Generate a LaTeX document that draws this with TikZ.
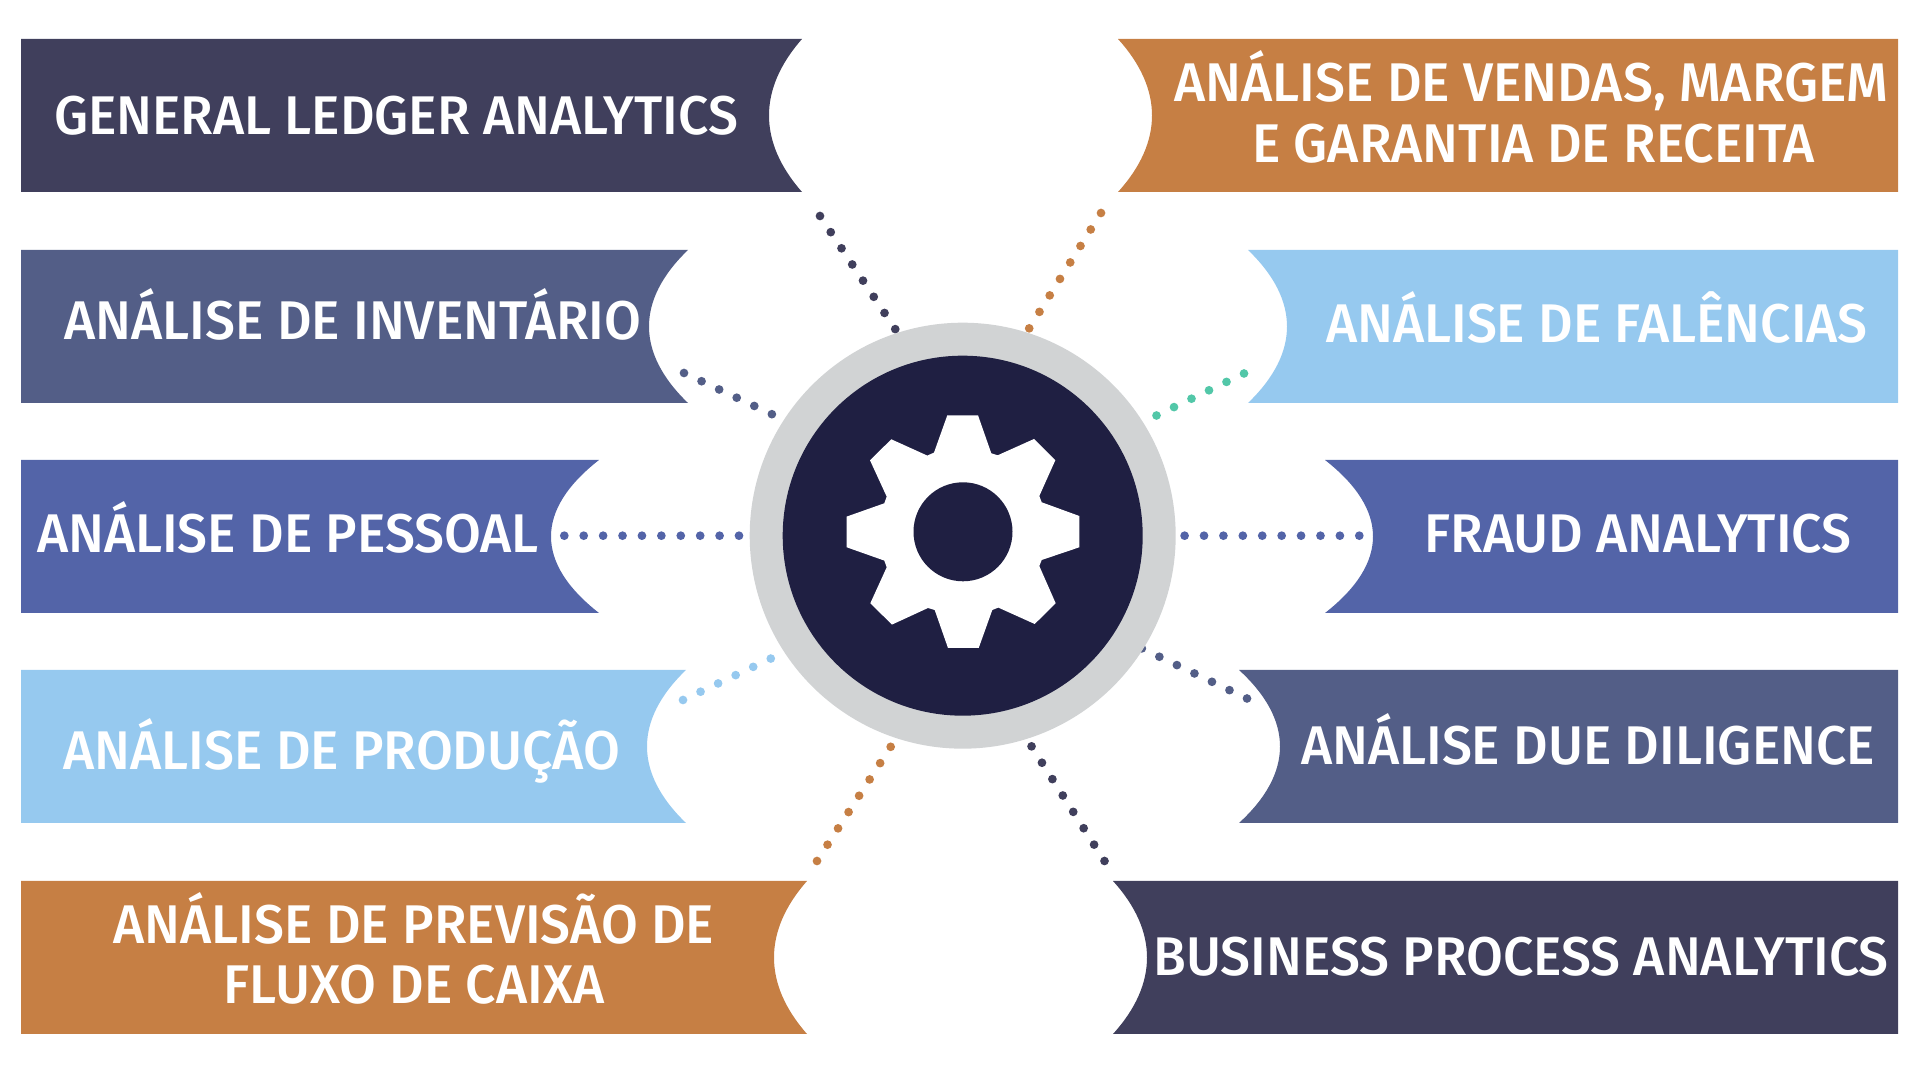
\documentclass[tikz,border=0pt]{standalone}
\usepackage{fontspec}
\newfontfamily\bannerfont[FakeStretch=0.98]{Fira Sans Medium}
\definecolor{darkslate}{HTML}{403F5C}
\definecolor{midslate}{HTML}{535E87}
\definecolor{royal}{HTML}{5364A8}
\definecolor{skyblue}{HTML}{96C9EF}
\definecolor{copper}{HTML}{C67F44}
\definecolor{teal}{HTML}{52C7A8}
\definecolor{navy}{HTML}{1F1F42}
\definecolor{ringgrey}{HTML}{D1D3D4}
\tikzset{
    bannertext/.style={font=\bannerfont\fontsize{15.5}{17.4}\selectfont, text=white, inner sep=0pt, anchor=base, align=center},
    dotline/.style={line width=0.087cm, line cap=round, dash pattern=on 0pt off 0.194cm},
}
% colour, top edge, outer edge, tip of the notch, deepest point of the notch
\newcommand{\banner}[5]{
    \pgfmathsetmacro{\ctrlx}{#4+(#5-#4)*4/3}
    \fill[#1] (#3,#2) -- (#4,#2) .. controls (\ctrlx,#2+50) and (\ctrlx,#2+103) .. (#4,#2+153) -- (#3,#2+153) -- cycle;
}
\begin{document}
\begin{tikzpicture}[x=0.01cm, y=-0.01cm]
    \useasboundingbox (0,0) rectangle (1920,1080);

    % left column
    \banner{darkslate}{39}{21}{802}{769}
    \banner{midslate}{250}{21}{688}{649}
    \banner{royal}{460}{21}{599}{551}
    \banner{skyblue}{670}{21}{686}{647}
    \banner{copper}{881}{21}{807}{774}
    % right column
    \banner{copper}{39}{1898}{1118}{1152}
    \banner{skyblue}{250}{1898}{1248}{1287}
    \banner{royal}{460}{1898}{1325}{1373}
    \banner{midslate}{670}{1898}{1239}{1280}
    \banner{darkslate}{881}{1898}{1113}{1147}

    \node[bannertext] (ledger) at (396,134.5) {GENERAL LEDGER ANALYTICS};
    \node[bannertext] (inventario) at (353,340) {ANÁLISE DE INVENTÁRIO};
    \node[bannertext] (pessoal) at (288,552.5) {ANÁLISE DE PESSOAL};
    \node[bannertext] (producao) at (342,770) {ANÁLISE DE PRODUÇÃO};
    \node[bannertext] (previsao) at (414,944) {ANÁLISE DE PREVISÃO DE};
    \node[bannertext] (fluxo) at (414,1004) {FLUXO DE CAIXA};
    \node[bannertext] (vendas) at (1531.5,101.5) {ANÁLISE DE VENDAS, MARGEM};
    \node[bannertext] (garantia) at (1533.5,162.7) {E GARANTIA DE RECEITA};
    \node[bannertext] (falencias) at (1597,343) {ANÁLISE DE FALÊNCIAS};
    \node[bannertext] (fraud) at (1638,552.5) {FRAUD ANALYTICS};
    \node[bannertext] (diligence) at (1588,765) {ANÁLISE DUE DILIGENCE};
    \node[bannertext] (process) at (1521,976) {BUSINESS PROCESS ANALYTICS};

    % free ends of the dotted lines
    \coordinate (a1) at (820,216);   \coordinate (a2) at (895.5,329.5);
    \coordinate (b1) at (684,373);   \coordinate (b2) at (772.5,414.5);
    \coordinate (c1) at (564.3,535.7); \coordinate (c2) at (740,535.7);
    \coordinate (d1) at (683,700);   \coordinate (d2) at (772,658);
    \coordinate (e1) at (817,861);   \coordinate (e2) at (892.5,744);
    \coordinate (f1) at (1101,213);  \coordinate (f2) at (1028.5,329.5);
    \coordinate (g1) at (1244,373.5);\coordinate (g2) at (1155.5,416);
    \coordinate (h1) at (1359.3,535.7);\coordinate (h2) at (1183.5,535.7);
    \coordinate (i1) at (1247,698.5);\coordinate (i2) at (1141,648);
    \coordinate (j1) at (1104.5,861);\coordinate (j2) at (1031,745.5);

    \draw[dotline, darkslate] (a1) -- (a2);
    \draw[dotline, midslate] (b1) -- (b2);
    \draw[dotline, royal] (c1) -- (c2);
    \draw[dotline, skyblue] (d1) -- (d2);
    \draw[dotline, copper] (e1) -- (e2);
    \draw[dotline, copper] (f1) -- (f2);
    \draw[dotline, teal] (g1) -- (g2);
    \draw[dotline, royal] (h1) -- (h2);
    \draw[dotline, midslate] (i1) -- (i2);
    \draw[dotline, darkslate] (j1) -- (j2);

    % the gear
    \fill[ringgrey] (962.7,535.7) circle (213);
    \fill[navy] (962.7,535.7) circle (180);
    \begin{scope}[shift={(963,531.8)}]
        \fill[white] (-15.7,-116.5) -- (15,-116.5) -- (28.3,-78.5) -- (34.7,-76.5) -- (71,-92.8) -- (92.3,-71.5)
            -- (76.3,-35.8) -- (78.7,-29.5) -- (116.3,-15.8) -- (116.3,15.5) -- (78.7,28.2) -- (76.3,34.2)
            -- (92.7,71.5) -- (71.7,92.2) -- (35.3,75.8) -- (29.3,78.2) -- (15.7,116.2) -- (-15,116.2)
            -- (-28.3,78.2) -- (-35,76.2) -- (-71,92.8) -- (-92.7,71.5) -- (-76.3,35.5) -- (-78.7,28.8)
            -- (-116.3,15.5) -- (-116.3,-15.2) -- (-78.7,-28.5) -- (-76.3,-35.2) -- (-93,-71.5) -- (-71.7,-92.5)
            -- (-35.7,-76.2) -- (-29,-79.2) -- cycle;
        \fill[navy] (0,0) circle (49.5);
    \end{scope}
\end{tikzpicture}
\end{document}
